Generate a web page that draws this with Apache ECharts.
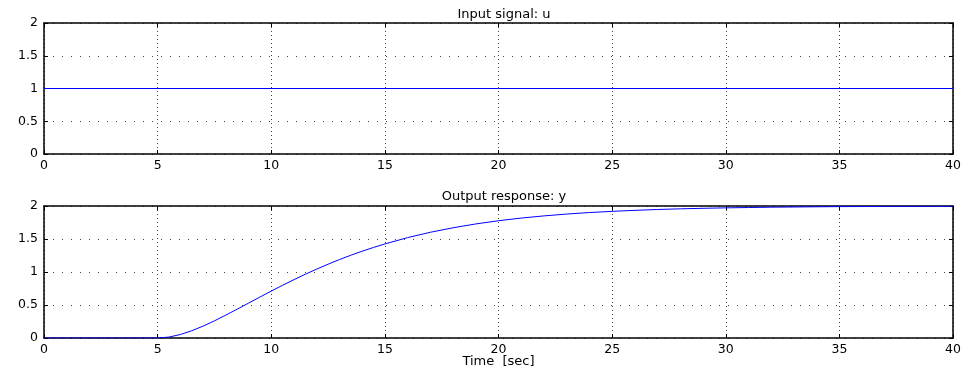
<!DOCTYPE html>
<html>
<head>
<meta charset="utf-8">
<script src="https://cdn.jsdelivr.net/npm/echarts@6/dist/echarts.min.js"></script>
<style>html,body{margin:0;padding:0;background:#fff;}#c{width:974px;height:372px;}</style>
</head>
<body>
<div id="c"></div>
<script>
const topTitle = 'Input signal: u';
const bottomTitle = 'Output response: y';
const xName = 'Time  [sec]';

const timeU = [0, 40];
const uValues = [1, 1];

const timeY = [0,1,2,3,4,5,5.5,6,6.5,7,7.5,8,8.5,9,9.5,10,10.5,11,11.5,12,12.5,13,13.5,14,14.5,15,
  16,17,18,19,20,21,22,23,24,25,26,27,28,29,30,31,32,33,34,35,36,37,38,39,40];
const yValues = [0,0,0,0,0,0,0.014,0.053,0.110,0.180,0.260,0.347,0.437,0.528,0.620,0.711,
  0.799,0.884,0.966,1.044,1.118,1.188,1.254,1.315,1.372,1.425,
  1.521,1.602,1.670,1.728,1.777,1.817,1.850,1.878,1.901,1.919,1.934,1.947,1.957,1.965,1.972,
  1.977,1.982,1.985,1.988,1.991,1.992,1.994,1.995,1.996,1.997];

const FONT = 'DejaVu Sans';
const chart = echarts.init(document.getElementById('c'));

function pairs(xs, ys){ return xs.map((x,i)=>[x, ys[i]]); }

function xAxisMain(grid, withName){
  return {
    type:'value', gridIndex:grid, min:0, max:40, interval:5, position:'bottom',
    axisLine:{show:true, onZero:false, lineStyle:{color:'#000', width:1.5}},
    axisTick:{show:true, inside:true, length:4, lineStyle:{color:'#000', width:1}},
    axisLabel:{color:'#000', fontFamily:FONT, fontSize:12.5, margin:5},
    splitLine:{show:true, lineStyle:{color:'#444', width:1, type:[1,3]}},
    name: withName ? xName : '', nameLocation:'middle', nameGap:17, nameMoveOverlap:false,
    nameTextStyle:{color:'#000', fontFamily:FONT, fontSize:13}
  };
}
function xAxisTop(grid){
  return {
    type:'value', gridIndex:grid, min:0, max:40, interval:5, position:'top',
    axisLine:{show:true, onZero:false, lineStyle:{color:'#000', width:1.5}},
    axisTick:{show:true, inside:true, length:4, lineStyle:{color:'#000', width:1}},
    axisLabel:{show:false}, splitLine:{show:false}
  };
}
function yAxisMain(grid){
  return {
    type:'value', gridIndex:grid, min:0, max:2, interval:0.5, position:'left',
    axisLine:{show:true, onZero:false, lineStyle:{color:'#000', width:1.5}},
    axisTick:{show:true, inside:true, length:4, lineStyle:{color:'#000', width:1}},
    axisLabel:{color:'#000', fontFamily:FONT, fontSize:12.5, margin:6},
    splitLine:{show:true, lineStyle:{color:'#444', width:1, type:[1,8]}}
  };
}
function yAxisRight(grid){
  return {
    type:'value', gridIndex:grid, min:0, max:2, interval:0.5, position:'right',
    axisLine:{show:true, onZero:false, lineStyle:{color:'#000', width:1.5}},
    axisTick:{show:true, inside:true, length:4, lineStyle:{color:'#000', width:1}},
    axisLabel:{show:false}, splitLine:{show:false}
  };
}

chart.setOption({
  animation:false,
  backgroundColor:'#fff',
  title:[
    {text:topTitle, left:499, top:3, textAlign:'center',
     textStyle:{color:'#000', fontFamily:FONT, fontSize:13, fontWeight:'normal'}},
    {text:bottomTitle, left:499, top:185, textAlign:'center',
     textStyle:{color:'#000', fontFamily:FONT, fontSize:13, fontWeight:'normal'}}
  ],
  grid:[
    {left:44, right:21, top:23, height:131},
    {left:44, right:21, top:206, height:132}
  ],
  xAxis:[xAxisMain(0,false), xAxisTop(0), xAxisMain(1,true), xAxisTop(1)],
  yAxis:[yAxisMain(0), yAxisRight(0), yAxisMain(1), yAxisRight(1)],
  series:[
    {type:'line', xAxisIndex:0, yAxisIndex:0, data:pairs(timeU,uValues), showSymbol:false,
     lineStyle:{color:'#0000ff', width:1}, z:5},
    {type:'line', xAxisIndex:2, yAxisIndex:2, data:pairs(timeY,yValues), showSymbol:false,
     lineStyle:{color:'#0000ff', width:1}, z:5}
  ]
});
</script>
</body>
</html>
